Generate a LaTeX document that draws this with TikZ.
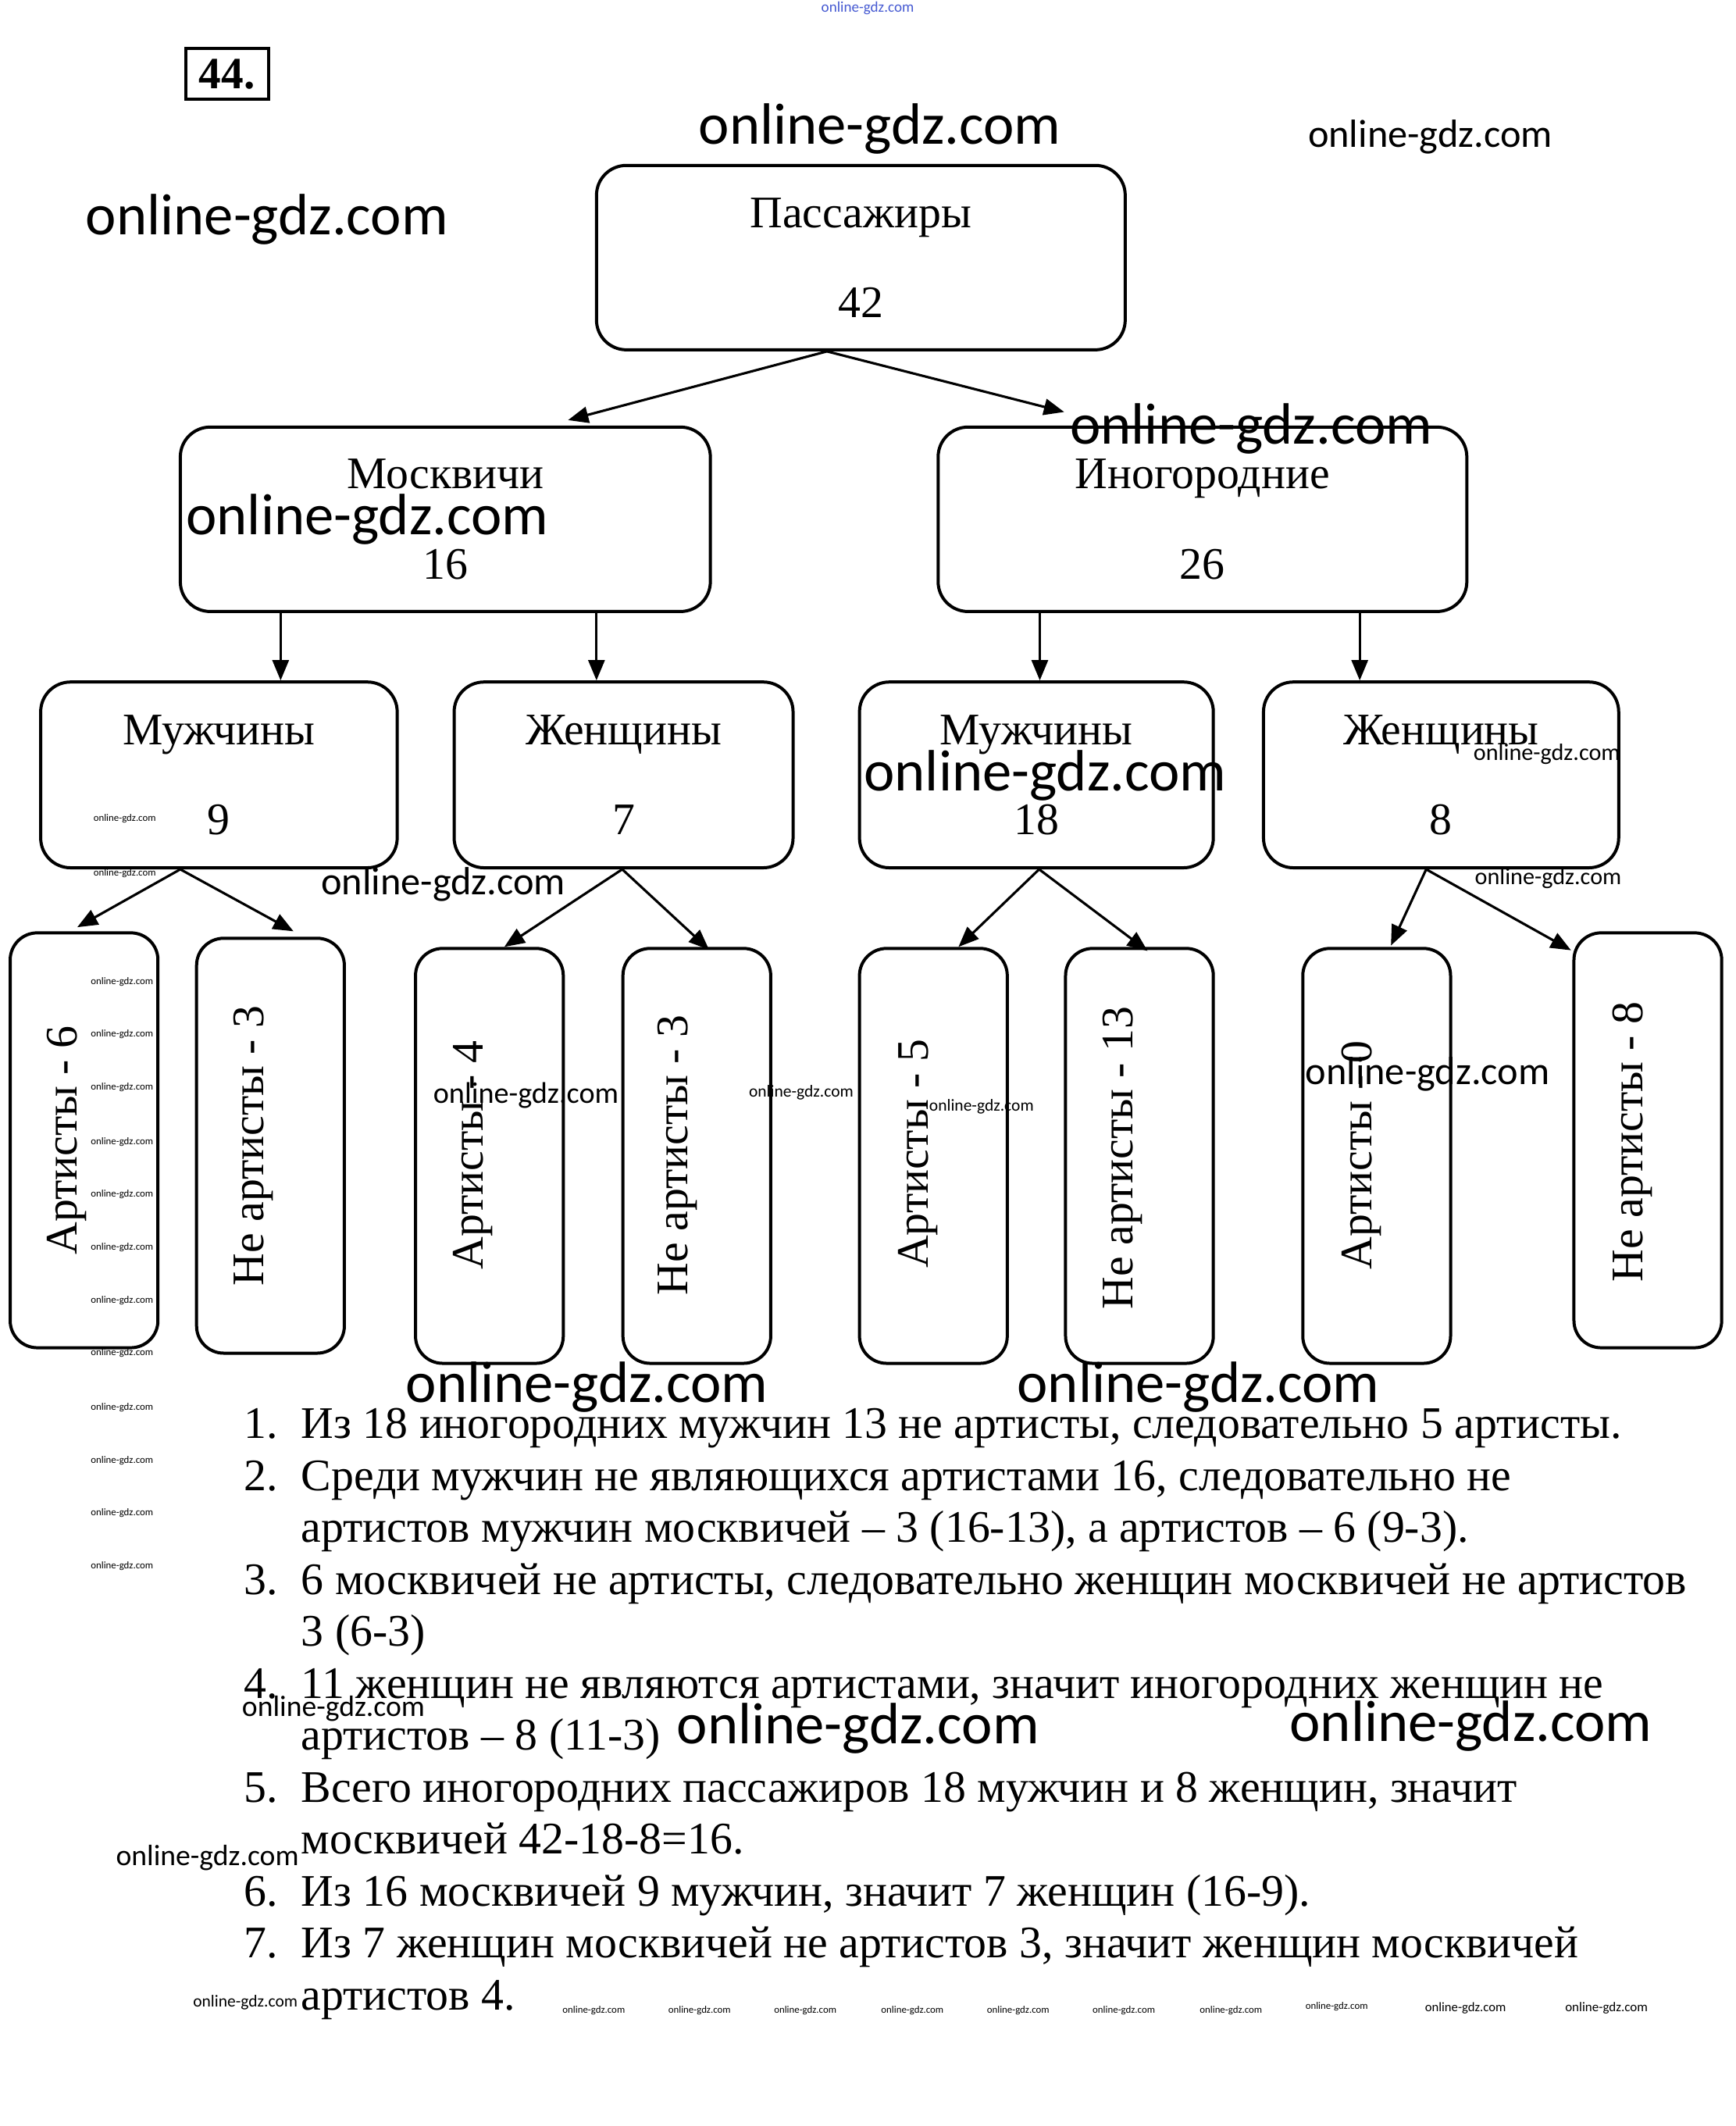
\documentclass[tikz,border=0pt]{standalone}
\usepackage{fontspec}
\setmainfont{Liberation Serif}
\newfontfamily\wmfont{Carlito}
\usetikzlibrary{arrows.meta}
\definecolor{wmblue}{RGB}{70,90,210}
\newcommand{\trf}{\fontsize{33.3}{38.3}\selectfont}
\begin{document}
\begin{tikzpicture}[x=1pt,y=-1pt,
 box/.style={draw, line width=2.3pt, rounded corners=22pt, inner sep=0pt, align=center, font=\trf},
 tallbox/.style={draw, line width=2.3pt, rounded corners=20pt, inner sep=0pt, minimum width=109pt, minimum height=306pt},
 vlbl/.style={rotate=90, font=\trf, inner sep=0pt},
 arr/.style={line width=1.8pt, -{Triangle[length=15pt,width=12pt]}},
 wm/.style={font=\wmfont\fontsize{#1}{#1}\selectfont, inner sep=0pt},
 txt/.style={font=\trf, anchor=base west, inner sep=0pt},
]
\fill[white] (0,0) rectangle (1280,1568);
\useasboundingbox (0,0) rectangle (1280,1568);

% exercise number
\node[draw, line width=2.3pt, inner sep=0pt, minimum width=61pt, minimum height=37pt,
      font=\bfseries\fontsize{33}{33}\selectfont] (num) at (167.5,54.5) {44.};

% tree
\node[box, minimum width=390pt, minimum height=136pt] (pass) at (635,190) {Пассажиры\\[27.7pt]42};
\node[box, minimum width=391pt, minimum height=136pt] (mos) at (328.5,383) {Москвичи\\[28.7pt]16};
\node[box, minimum width=390pt, minimum height=136pt] (ino) at (887,383) {Иногородние\\[28.7pt]26};

\node[box, minimum width=263pt, minimum height=137pt] (m1) at (161.5,571.5) {Мужчины\\[27.7pt]9};
\node[box, minimum width=250pt, minimum height=137pt] (w1) at (460,571.5) {Женщины\\[27.7pt]7};
\node[box, minimum width=261pt, minimum height=137pt] (m2) at (764.5,571.5) {Мужчины\\[27.7pt]18};
\node[box, minimum width=262pt, minimum height=137pt] (w2) at (1063,571.5) {Женщины\\[27.7pt]8};

\node[tallbox] (a6)  at (62,841) {};
\node[tallbox] (n3a) at (199.5,845) {};
\node[tallbox] (a4)  at (361,852.5) {};
\node[tallbox] (n3b) at (514,852.5) {};
\node[tallbox] (a5)  at (688.5,852.5) {};
\node[tallbox] (n13) at (840.5,852.5) {};
\node[tallbox] (a0)  at (1015.5,852.5) {};
\node[tallbox] (n8)  at (1215.5,841) {};

\node[vlbl] (ta6)  at (49,841) {Артисты - 6};
\node[vlbl] (tn3a) at (187,845) {Не артисты - 3};
\node[vlbl] (ta4)  at (349,852) {Артисты - 4};
\node[vlbl] (tn3b) at (500,852) {Не артисты - 3};
\node[vlbl] (ta5)  at (677,851) {Артисты - 5};
\node[vlbl] (tn13) at (828,854) {Не артисты - 13};
\node[vlbl] (ta0)  at (1004,852) {Артисты - 0};
\node[vlbl] (tn8)  at (1204,842) {Не артисты - 8};

% connectors
\draw[arr] ([xshift=-25pt]pass.south) -- ([xshift=90.5pt,yshift=4pt]mos.north);
\draw[arr] ([xshift=-25pt]pass.south) -- ([xshift=-102pt,yshift=10pt]ino.north);

\draw[arr] ([xshift=-121.5pt]mos.south) -- ([xshift=45.5pt]m1.north);
\draw[arr] ([xshift=111.5pt]mos.south) -- ([xshift=-20pt]w1.north);
\draw[arr] ([xshift=-120pt]ino.south) -- ([xshift=2.5pt]m2.north);
\draw[arr] ([xshift=116pt]ino.south) -- ([xshift=-60pt]w2.north);

\draw[arr] ([xshift=-28.5pt]m1.south) -- ([xshift=-5pt,yshift=3pt]a6.north);
\draw[arr] ([xshift=-28.5pt]m1.south) -- ([xshift=17pt,yshift=4pt]n3a.north);
\draw[arr] ([xshift=-1pt]w1.south) -- ([xshift=11pt]a4.north);
\draw[arr] ([xshift=-1pt]w1.south) -- ([xshift=9pt,yshift=-2pt]n3b.north);
\draw[arr] ([xshift=2pt]m2.south) -- ([xshift=18.5pt]a5.north);
\draw[arr] ([xshift=2pt]m2.south) -- ([xshift=6pt,yshift=-3pt]n13.north);
\draw[arr] ([xshift=-11pt]w2.south) -- ([xshift=10.5pt,yshift=1pt]a0.north);
\draw[arr] ([xshift=-11pt]w2.south) -- ([xshift=-1pt,yshift=-14pt]n8.north west);

% solution text
\node[txt] (k1) at (180,1061) {1.};
\node[txt] (l1) at (222,1061) {Из 18 иногородних мужчин 13 не артисты, следовательно 5 артисты.};
\node[txt] (k2) at (180,1099.3) {2.};
\node[txt] (l2) at (222,1099.3) {Среди мужчин не являющихся артистами 16, следовательно не};
\node[txt] (l3) at (222,1137.6) {артистов мужчин москвичей – 3 (16-13), а артистов – 6 (9-3).};
\node[txt] (k3) at (180,1175.9) {3.};
\node[txt] (l4) at (222,1175.9) {6 москвичей не артисты, следовательно женщин москвичей не артистов};
\node[txt] (l5) at (222,1214.2) {3 (6-3)};
\node[txt] (k4) at (180,1252.5) {4.};
\node[txt] (l6) at (222,1252.5) {11 женщин не являются артистами, значит иногородних женщин не};
\node[txt] (l7) at (222,1290.8) {артистов – 8 (11-3)};
\node[txt] (k5) at (180,1329.1) {5.};
\node[txt] (l8) at (222,1329.1) {Всего иногородних пассажиров 18 мужчин и 8 женщин, значит};
\node[txt] (l9) at (222,1367.4) {москвичей 42-18-8=16.};
\node[txt] (k6) at (180,1405.7) {6.};
\node[txt] (l10) at (222,1405.7) {Из 16 москвичей 9 мужчин, значит 7 женщин (16-9).};
\node[txt] (k7) at (180,1444) {7.};
\node[txt] (l11) at (222,1444) {Из 7 женщин москвичей не артистов 3, значит женщин москвичей};
\node[txt] (l12) at (222,1482.3) {артистов 4.};

% watermarks
\node[wm=11, text=wmblue] (w01) at (640,6) {online-gdz.com};
\node[wm=43] (w02) at (649,95) {online-gdz.com};
\node[wm=29] (w03) at (1055,101) {online-gdz.com};
\node[wm=43] (w04) at (197,162) {online-gdz.com};
\node[wm=43] (w05) at (923,316) {online-gdz.com};
\node[wm=43] (w06) at (271,383) {online-gdz.com};
\node[wm=7.4] (w07) at (92,604) {online-gdz.com};
\node[wm=43] (w08) at (771,572) {online-gdz.com};
\node[wm=17.4] (w09) at (1141,556) {online-gdz.com};
\node[wm=7.4] (w10) at (92,644) {online-gdz.com};
\node[wm=29] (w11) at (327,652) {online-gdz.com};
\node[wm=17.4] (w12) at (1142,648) {online-gdz.com};
\foreach \yy [count=\i] in {724,763,802,842,881,920,959,998,1038,1077,1116,1155}
  \node[wm=7.4] (wc\i) at (90,\yy) {online-gdz.com};
\node[wm=22] (w14) at (388,808) {online-gdz.com};
\node[wm=12.4] (w15) at (591,806) {online-gdz.com};
\node[wm=12.4] (w16) at (724,816) {online-gdz.com};
\node[wm=29] (w17) at (1053,792) {online-gdz.com};
\node[wm=43] (w18) at (433,1023) {online-gdz.com};
\node[wm=43] (w19) at (884,1023) {online-gdz.com};
\node[wm=21.7] (w20) at (246,1260) {online-gdz.com};
\node[wm=43] (w21) at (633,1275) {online-gdz.com};
\node[wm=43] (w22) at (1085,1273) {online-gdz.com};
\node[wm=21.7] (w23) at (153,1370) {online-gdz.com};
\node[wm=12.4] (w24) at (181,1477) {online-gdz.com};
\foreach \xx [count=\i] in {438,516,594,673,751,829,908}
  \node[wm=7.4] (wr\i) at (\xx,1483) {online-gdz.com};
\node[wm=7.4] (w25) at (986,1480) {online-gdz.com};
\node[wm=9.6] (w26) at (1081,1481) {online-gdz.com};
\node[wm=9.8] (w27) at (1185,1481) {online-gdz.com};
\end{tikzpicture}
\end{document}
